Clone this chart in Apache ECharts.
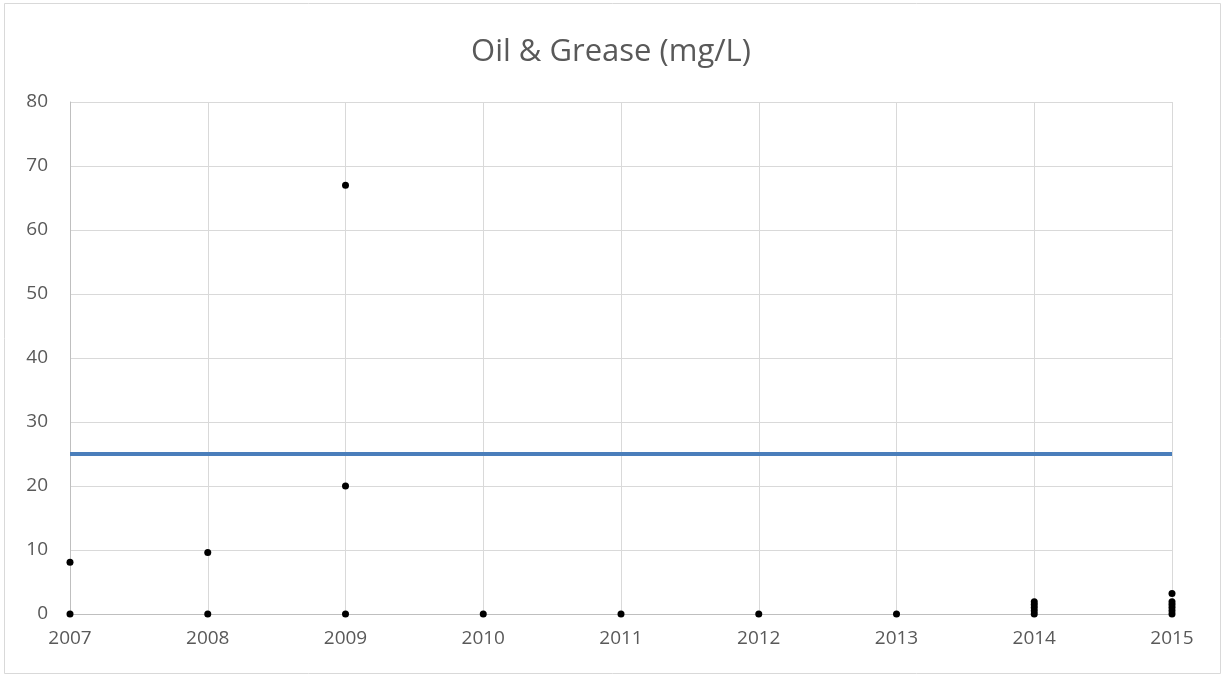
<!DOCTYPE html>
<html>
<head>
<meta charset="utf-8">
<script src="https://cdn.jsdelivr.net/npm/echarts@6/dist/echarts.min.js"></script>
<style>html,body{margin:0;padding:0;background:#fff;}#c{width:1222px;height:675px;}</style>
</head>
<body>
<div id="c"></div>
<script>
const titleText = 'Oil & Grease (mg/L)';
const obsYears  = [2007, 2007, 2008, 2008, 2009, 2009, 2009, 2010, 2011, 2012, 2013, 2014, 2014, 2014, 2014, 2014, 2015, 2015, 2015, 2015, 2015, 2015];
const obsValues = [8.1,  0,    9.6,  0,    67,   20,   0,    0,    0,    0,    0,    0,    0.5,  1.0,  1.5,  1.9,  0,    0.5,  1.0,  1.5,  1.9,  3.2];
const limitYears = [2007, 2015];
const limitValues = [25, 25];
const yTicks = [0, 10, 20, 30, 40, 50, 60, 70, 80];

const chart = echarts.init(document.getElementById('c'));
const font = '"Open Sans", "Noto Sans", sans-serif';
chart.setOption({
  animation: false,
  backgroundColor: '#fff',
  title: {
    text: titleText, left: 'center', top: 32,
    textStyle: {fontFamily: font, fontSize: 31, fontWeight: 'normal', color: '#595959'}
  },
  graphic: [{type: 'rect', shape: {x: 4.5, y: 3.5, width: 1216, height: 670}, style: {fill: 'none', stroke: '#d9d9d9', lineWidth: 1}, silent: true}],
  grid: {left: 70, right: 50, top: 102, bottom: 61},
  xAxis: {
    type: 'value', min: 2007, max: 2015, interval: 1,
    axisLine: {show: true, onZero: false, lineStyle: {color: '#bfbfbf', width: 1}},
    axisTick: {show: false},
    splitLine: {show: true, lineStyle: {color: '#d9d9d9', width: 1}},
    axisLabel: {fontFamily: font, fontSize: 19, color: '#595959', margin: 15, formatter: v => String(v)}
  },
  yAxis: {
    type: 'value', min: yTicks[0], max: yTicks[yTicks.length - 1], interval: 10,
    axisLine: {show: true, lineStyle: {color: '#bfbfbf', width: 1}},
    axisTick: {show: false},
    splitLine: {show: true, lineStyle: {color: '#d9d9d9', width: 1}},
    axisLabel: {fontFamily: font, fontSize: 19, color: '#595959', margin: 22}
  },
  series: [
    {
      type: 'line', data: limitYears.map((y, i) => [y, limitValues[i]]),
      symbol: 'none', lineStyle: {color: '#4a7ebb', width: 4}, z: 2
    },
    {
      type: 'scatter', data: obsYears.map((y, i) => [y, obsValues[i]]),
      symbolSize: 7, itemStyle: {color: '#000', opacity: 1}, z: 3
    }
  ]
});
</script>
</body>
</html>
